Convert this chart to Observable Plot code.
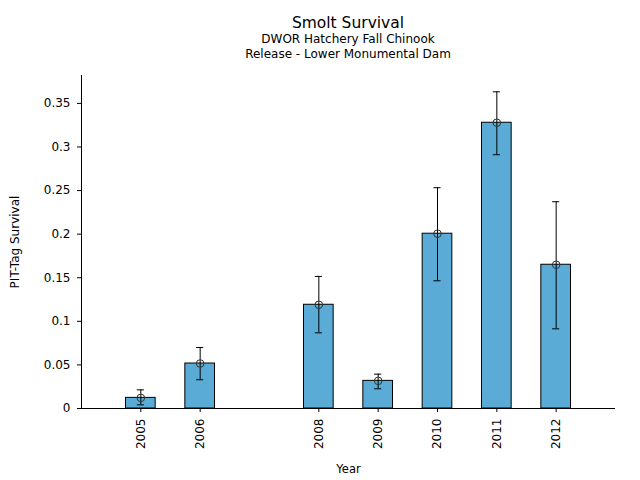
<!DOCTYPE html>
<html>
<head>
<meta charset="utf-8">
<script src="https://cdn.jsdelivr.net/npm/d3@7"></script>
<script src="https://cdn.jsdelivr.net/npm/@observablehq/plot@0.6"></script>
<style>
  body { margin: 0; background: #fff; font-family: "DejaVu Sans", sans-serif; }
  #wrap { width: 640px; height: 480px; overflow: hidden; }
  #head { height: 66px; text-align: center; color: #000; position: relative; left: 28px; }
  #head .t { font-size: 15.5px; padding-top: 15px; line-height: 17px; }
  #head .s { font-size: 12px; line-height: 14.5px; }
</style>
</head>
<body>
<div id="wrap">
  <div id="head">
    <div class="t">Smolt Survival</div>
    <div class="s">DWOR Hatchery Fall Chinook</div>
    <div class="s">Release - Lower Monumental Dam</div>
  </div>
  <div id="chart"></div>
</div>
<script>
const years = [2005, 2006, 2008, 2009, 2010, 2011, 2012];
const survival = [0.0122, 0.0516, 0.119, 0.0317, 0.2005, 0.3278, 0.1649];
const lower = [0.0042, 0.033, 0.0868, 0.0226, 0.1465, 0.2911, 0.0914];
const upper = [0.0214, 0.070, 0.1515, 0.0394, 0.2533, 0.3633, 0.2372];
const yTicks = [0, 0.05, 0.1, 0.15, 0.2, 0.25, 0.3, 0.35];

const data = years.map((y, i) => ({year: y, value: survival[i], lo: lower[i], hi: upper[i]}));
const halfBar = 0.25, halfCap = 0.06;

const plot = Plot.plot({
  width: 640,
  height: 414,
  marginTop: 9,
  marginBottom: 72,
  marginLeft: 81,
  marginRight: 25,
  style: {fontFamily: "DejaVu Sans, sans-serif", fontSize: "11px", color: "#000", background: "#fff"},
  x: {domain: [2004, 2013]},
  y: {domain: [0, 0.382]},
  marks: [
    Plot.rectY(data, {x1: d => d.year - halfBar, x2: d => d.year + halfBar, y1: 0, y2: "value", fill: "#5aacd6", stroke: "#000", strokeWidth: 1, inset: 0}),
    Plot.ruleX(data, {x: "year", y1: "lo", y2: "hi", stroke: "#000", strokeWidth: 1}),
    Plot.ruleY(data, {y: "lo", x1: d => d.year - halfCap, x2: d => d.year + halfCap, stroke: "#000", strokeWidth: 1}),
    Plot.ruleY(data, {y: "hi", x1: d => d.year - halfCap, x2: d => d.year + halfCap, stroke: "#000", strokeWidth: 1}),
    Plot.dot(data, {x: "year", y: "value", r: 3.8, stroke: "#333", strokeWidth: 1, fill: "none"}),
    Plot.axisY({ticks: yTicks, tickFormat: d => String(+d.toFixed(2)), tickSize: 4, tickPadding: 7, label: null, fontSize: 12}),
    Plot.axisX({ticks: years, tickFormat: d => String(d), tickRotate: -90, tickSize: 4, tickPadding: 6, label: null, fontSize: 12}),
    Plot.ruleX([2004], {stroke: "#000", strokeWidth: 1}),
    Plot.ruleY([0], {stroke: "#000", strokeWidth: 1}),
    Plot.text(["Year"], {frameAnchor: "bottom", dy: 64, fontSize: 11.5}),
    Plot.text(["PIT-Tag Survival"], {frameAnchor: "left", dx: -66, rotate: -90, textAnchor: "middle", fontSize: 12})
  ]
});
document.getElementById("chart").appendChild(plot);
</script>
</body>
</html>
